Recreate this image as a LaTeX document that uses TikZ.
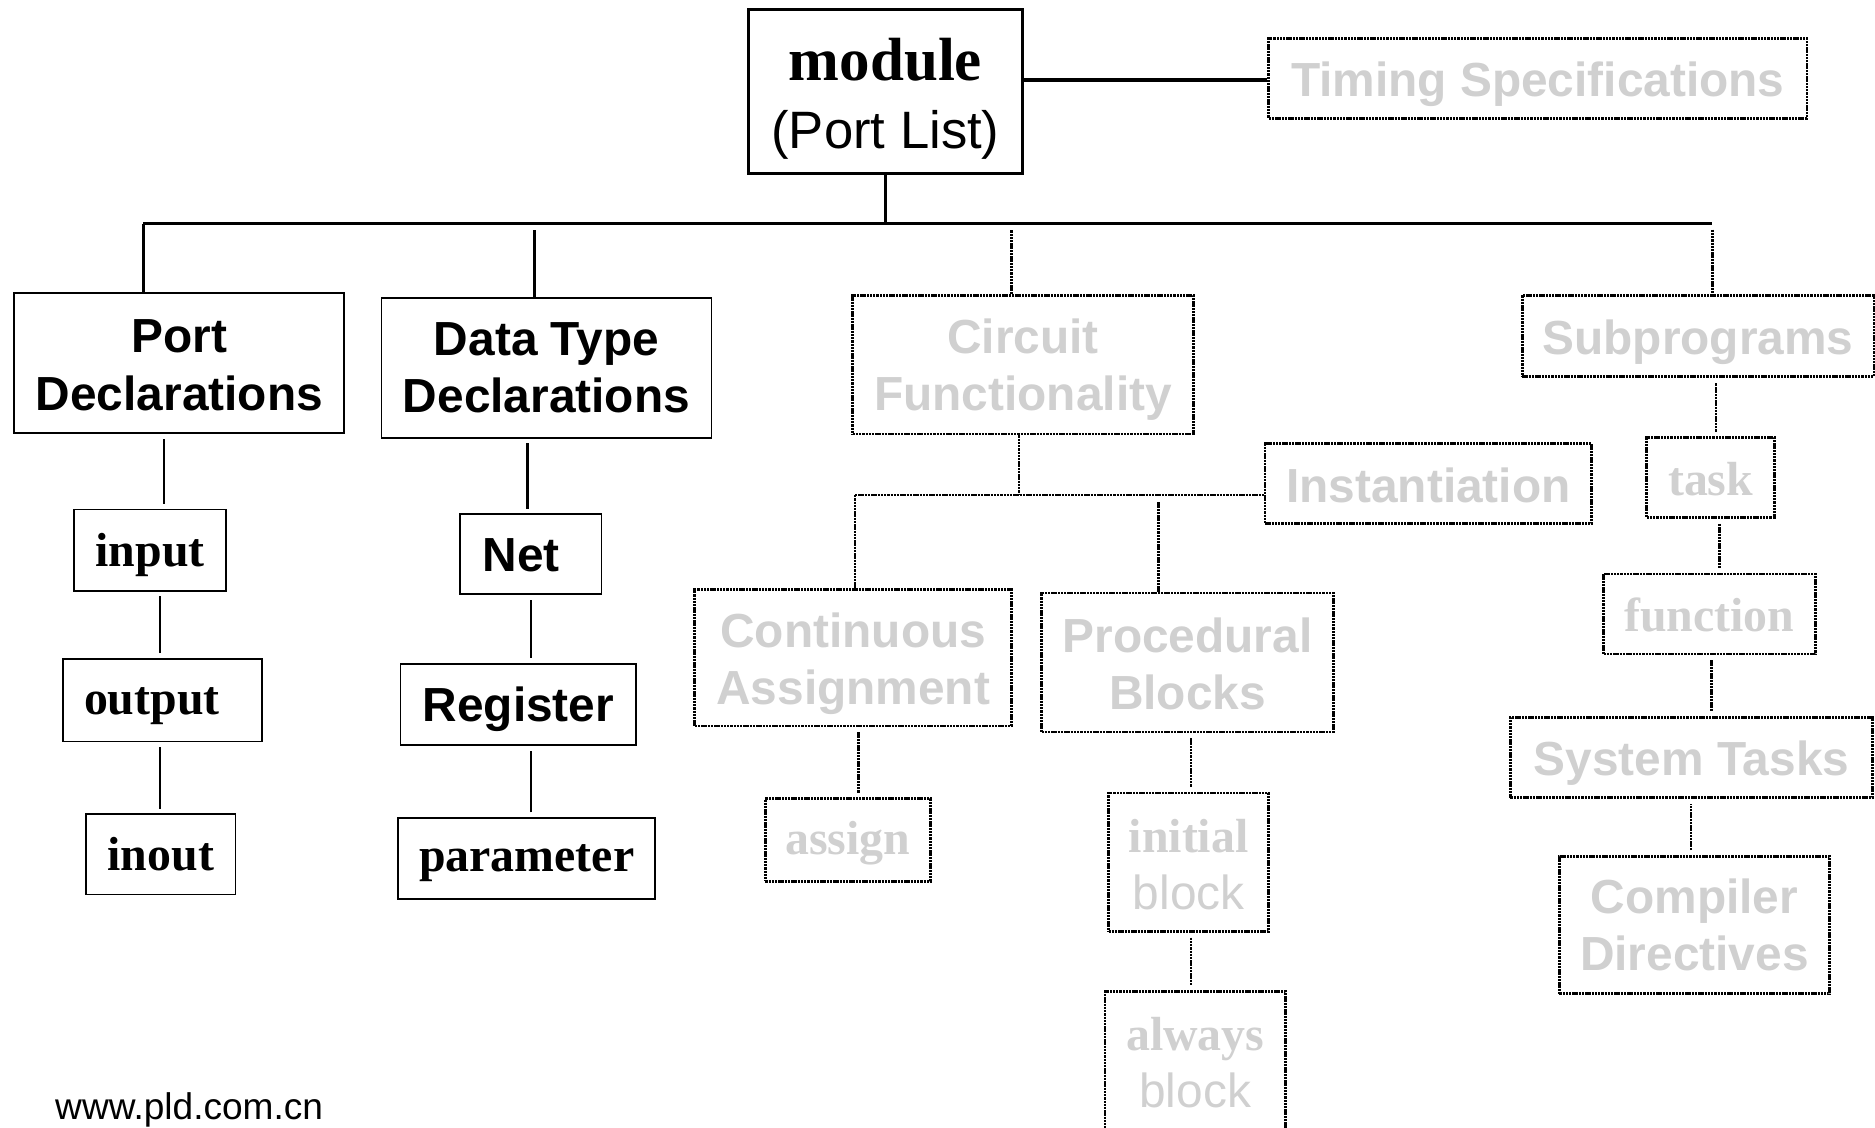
\documentclass[tikz,border=0pt]{standalone}
\usepackage{fontspec}
\setmainfont{Liberation Serif}
\setsansfont{Liberation Sans}
\definecolor{lgray}{RGB}{208,208,208}
\tikzset{
  box/.style={draw, line width=1.5pt, inner sep=0pt},
  dotline/.style={line width=2.2pt, dash pattern=on 2pt off 0.7pt},
  dbox/.style={box, dotline},
  sz/.style 2 args={minimum width=#1pt, minimum height=#2pt},
  lbl/.style={inner sep=0pt, align=center, font=\sffamily\bfseries\fontsize{40}{48}\selectfont},
  glbl/.style={lbl, text=lgray},
  slbl/.style={inner sep=0pt, align=center, font=\rmfamily\bfseries\fontsize{40}{48}\selectfont},
  gslbl/.style={slbl, text=lgray},
  conn/.style={line width=2pt},
  gapped/.style={shorten <=4pt, shorten >=4pt},
}
\begin{document}
\begin{tikzpicture}[x=1pt, y=-1pt]
\useasboundingbox (0,0) rectangle (1568,943);
\fill[white] (0,0) rectangle (1568,943);

% boxes
\node[box, line width=2pt, sz={229}{137}] (module) at (740.5,76.5) {};
\node[dbox, sz={450}{67}] (timing) at (1286,65.5) {};
\node[box, sz={276}{117}] (port) at (150,303.5) {};
\node[box, sz={276}{117}] (datatype) at (457,307.5) {};
\node[dbox, sz={285}{116}] (circuit) at (855.5,305) {};
\node[dbox, sz={294}{68}] (subprog) at (1420,281) {};
\node[box, sz={127}{68}] (input) at (125.5,460) {};
\node[box, sz={166}{69}] (output) at (136,585.5) {};
\node[box, sz={125}{67}] (inout) at (134.5,714.5) {};
\node[box, sz={118}{67}] (net) at (444,463.5) {};
\node[box, sz={197}{68}] (register) at (433.5,589) {};
\node[box, sz={215}{68}] (parameter) at (440.5,718) {};
\node[dbox, sz={273}{67}] (instantiation) at (1194.5,404.5) {};
\node[dbox, sz={265}{114}] (continuous) at (713.5,550) {};
\node[dbox, sz={244}{116}] (procedural) at (993,554) {};
\node[dbox, sz={138}{69}] (assign) at (709,702.5) {};
\node[dbox, sz={134}{116}] (initial) at (994,721) {};
\node[dbox, sz={151}{117}] (always) at (999.5,887.5) {};
\node[dbox, sz={107}{67}] (task) at (1430.5,399.5) {};
\node[dbox, sz={177}{67}] (function) at (1429.5,513.5) {};
\node[dbox, sz={303}{67}] (systasks) at (1414.5,633.5) {};
\node[dbox, sz={226}{115}] (compiler) at (1417,773.5) {};

% texts
\node[lbl, font=\fontsize{51}{57}\selectfont] (moduleT) at ([yshift=-6pt]module.center)
  {{\rmfamily\bfseries module}\\{\sffamily\mdseries\fontsize{44}{57}\selectfont (Port List)}};
\node[glbl] (timingT) at ([yshift=-5pt]timing.center) {Timing Specifications};
\node[lbl] (portT) at ([yshift=-2pt]port.center) {Port\\Declarations};
\node[lbl] (datatypeT) at (datatype.center) {Data Type\\Declarations};
\node[glbl] (circuitT) at ([yshift=-4pt]circuit.center) {Circuit\\Functionality};
\node[glbl] (subprogT) at ([yshift=-5pt]subprog.center) {Subprograms};
\node[slbl] (inputT) at ([yshift=-4pt]input.center) {input};
\node[slbl] (outputT) at ([xshift=-9pt,yshift=-5pt]output.center) {output};
\node[slbl] (inoutT) at (inout.center) {inout};
\node[lbl] (netT) at ([xshift=-8pt,yshift=-1pt]net.center) {Net};
\node[lbl] (registerT) at ([yshift=-4pt]register.center) {Register};
\node[slbl] (parameterT) at ([yshift=-4pt]parameter.center) {parameter};
\node[glbl] (instantiationT) at ([yshift=-1pt]instantiation.center) {Instantiation};
\node[glbl] (continuousT) at ([yshift=-5pt]continuous.center) {Continuous\\Assignment};
\node[glbl] (proceduralT) at ([yshift=-1pt]procedural.center) {Procedural\\Blocks};
\node[gslbl] (assignT) at ([yshift=-3pt]assign.center) {assign};
\node[glbl] (initialT) at ([yshift=-2pt]initial.center) {{\rmfamily initial}\\{\mdseries block}};
\node[glbl] (alwaysT) at ([yshift=-1pt]always.center) {{\rmfamily always}\\{\mdseries block}};
\node[gslbl] (taskT) at ([yshift=-1pt]task.center) {task};
\node[gslbl] (functionT) at ([yshift=-1pt]function.center) {function};
\node[glbl] (systasksT) at ([yshift=-5pt]systasks.center) {System Tasks};
\node[glbl] (compilerT) at (compiler.center) {Compiler\\Directives};

% footer
\node[anchor=base west, inner sep=0pt, font=\sffamily\fontsize{31}{36}\selectfont] (url) at (46,936) {www.pld.com.cn};

% bus
\coordinate (busL) at (120,187);
\coordinate (busR) at (1432,187);
\draw[line width=3pt] (busL) -- (busR);
\draw[conn] (module.south) -- (module.south |- busL);
\draw[line width=3pt] ([yshift=-1.5pt]timing.west) -- ([yshift=-1.5pt]timing.west -| module.east);
\draw[conn] (busL) -- (busL |- port.north);
\draw[conn] ([xshift=-10pt]datatype.north) -- ([xshift=-10pt,yshift=-5pt]datatype.north |- busL);
\draw[dotline] ([xshift=-9.5pt]circuit.north) -- ([xshift=-9.5pt,yshift=-5pt]circuit.north |- busL);
\draw[dotline] ([yshift=-5pt]busR) -- (busR |- subprog.north);

% port lines
\draw[conn, gapped] ([xshift=11.5pt]input.north) -- ([xshift=11.5pt]input.north |- port.south);
\draw[conn, gapped] ([xshift=-2pt]output.north) -- ([xshift=-2pt]output.north |- input.south);
\draw[conn, gapped] ([xshift=-0.5pt]inout.north) -- ([xshift=-0.5pt]inout.north |- output.south);

% data type lines
\draw[conn, gapped] ([xshift=-3pt]net.north) -- ([xshift=-3pt]net.north |- datatype.south);
\draw[conn, gapped] ([xshift=10.5pt]register.north) -- ([xshift=10.5pt]register.north |- net.south);
\draw[conn, gapped] ([xshift=3.5pt]parameter.north) -- ([xshift=3.5pt]parameter.north |- register.south);

% circuit lines
\coordinate (cfL) at (715,414);
\draw[dotline] ([xshift=-3.5pt]circuit.south) -- ([xshift=-3.5pt]circuit.south |- cfL);
\draw[dotline] (cfL) -- (cfL -| instantiation.west);
\draw[dotline] (cfL) -- (cfL |- continuous.north);
\draw[dotline] ([xshift=-24pt]procedural.north) -- ([xshift=-24pt,yshift=-6pt]procedural.north |- cfL);
\draw[dotline, gapped] ([xshift=9pt]assign.north) -- ([xshift=9pt]assign.north |- continuous.south);
\draw[dotline, gapped] ([xshift=2pt]initial.north) -- ([xshift=2pt]initial.north |- procedural.south);
\draw[dotline, gapped] ([xshift=2pt]initial.south) -- ([xshift=2pt]initial.south |- always.north);

% subprogram lines
\draw[dotline, gapped] ([xshift=4.5pt]task.north) -- ([xshift=4.5pt]task.north |- subprog.south);
\draw[dotline, gapped] ([xshift=7.5pt]task.south) -- ([xshift=7.5pt]task.south |- function.north);
\draw[dotline, gapped] ([xshift=1.5pt]function.south) -- ([xshift=1.5pt]function.south |- systasks.north);
\draw[dotline, gapped] ([xshift=-3pt]compiler.north) -- ([xshift=-3pt]compiler.north |- systasks.south);
\end{tikzpicture}
\end{document}
